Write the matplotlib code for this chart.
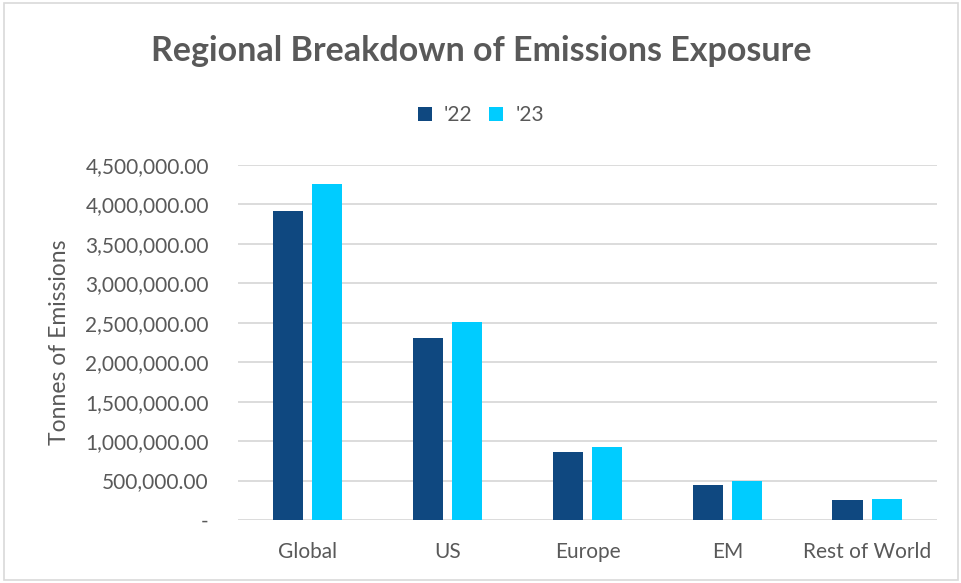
import matplotlib
matplotlib.use("Agg")
import matplotlib.pyplot as plt
import numpy as np
from matplotlib.patches import Rectangle
from matplotlib.ticker import FuncFormatter

regions = ["Global", "US", "Europe", "EM", "Rest of World"]
series_names = ["'22", "'23"]
values_22 = [3920000, 2310000, 868000, 445000, 248000]
values_23 = [4260000, 2510000, 930000, 490000, 262000]
colors = ["#0F4880", "#00CCFF"]
y_ticks = [0, 500000, 1000000, 1500000, 2000000, 2500000, 3000000, 3500000, 4000000, 4500000]

plt.rcParams['font.family'] = ['Lato', 'DejaVu Sans']
text_color = "#595959"

fig = plt.figure(figsize=(9.62, 5.83), dpi=100)
fig.patch.set_facecolor("white")
fig.add_artist(Rectangle((0.004, 0.006), 0.992, 0.988, transform=fig.transFigure,
                         fill=False, edgecolor="#D9D9D9", linewidth=1.2))

ax = fig.add_axes([0.2474, 0.108, 0.7266, 0.609])
x = np.arange(len(regions))
w = 0.215
gap = 0.065
off = (w + gap) / 2
ax.bar(x - off, values_22, width=w, color=colors[0], label=series_names[0], zorder=3)
ax.bar(x + off, values_23, width=w, color=colors[1], label=series_names[1], zorder=3)

ax.set_xlim(-0.5, len(regions) - 0.5)
ax.set_ylim(0, 4500000)
ax.set_yticks(y_ticks)

def fmt(v, pos):
    if v == 0:
        return "-"
    return f"{v:,.2f}"

ax.yaxis.set_major_formatter(FuncFormatter(fmt))
ax.grid(axis="y", color="#D9D9D9", linewidth=1.3, zorder=0)
for s in ax.spines.values():
    s.set_visible(False)
ax.tick_params(axis="y", length=0, pad=21, labelsize=15, labelcolor=text_color)
ax.tick_params(axis="x", length=0, pad=16, labelsize=15, labelcolor=text_color)
ax.set_xticks(x)
ax.set_xticklabels(regions)

ax.set_ylabel("Tonnes of Emissions", fontsize=16.5, color=text_color, labelpad=11)

fig.text(0.5, 0.913, "Regional Breakdown of Emissions Exposure", ha="center", va="center",
         fontsize=24.5, fontweight="bold", color=text_color)

fig.legend(loc="center", bbox_to_anchor=(0.5, 0.802), ncol=2, frameon=False,
           fontsize=15, labelcolor=text_color, handlelength=0.65, handleheight=0.65,
           columnspacing=0.8, handletextpad=0.6)

fig.savefig("out.png", dpi=100, facecolor="white")
